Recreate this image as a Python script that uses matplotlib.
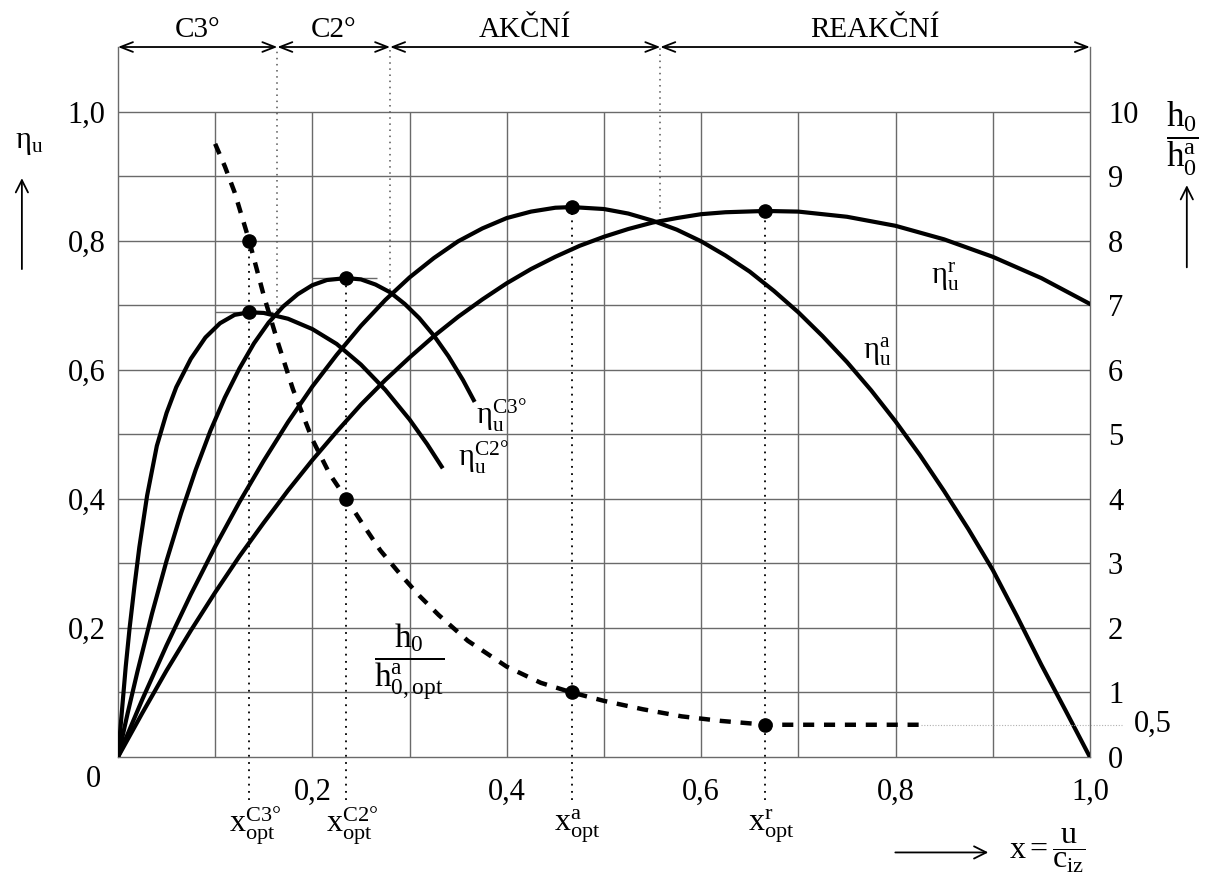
import numpy as np
import matplotlib
matplotlib.use("Agg")
import matplotlib.pyplot as plt
from matplotlib.patches import FancyArrowPatch

plt.rcParams["font.family"] = ["Liberation Serif", "DejaVu Serif"]
plt.rcParams["mathtext.fontset"] = "custom"
plt.rcParams["mathtext.rm"] = "Liberation Serif"
plt.rcParams["mathtext.it"] = "Liberation Serif:italic"

# --- data ---
# circumferential efficiency, C3° stage
x_c3 = [0, 0.004, 0.008, 0.012, 0.017, 0.022, 0.03, 0.04, 0.05, 0.06, 0.075,
        0.09, 0.105, 0.12, 0.135, 0.15, 0.175, 0.2, 0.225, 0.25, 0.275, 0.3, 0.318, 0.333]
eta_c3 = [0, 0.070, 0.140, 0.200, 0.265, 0.325, 0.405, 0.482, 0.533, 0.573, 0.617,
          0.650, 0.672, 0.685, 0.689, 0.688, 0.679, 0.663, 0.640, 0.608, 0.569, 0.523,
          0.485, 0.450]
# C2° stage
x_c2 = [0, 0.01, 0.02, 0.035, 0.05, 0.065, 0.08, 0.095, 0.11, 0.125, 0.14, 0.155, 0.17,
        0.185, 0.2, 0.215, 0.235, 0.25, 0.265, 0.28, 0.295, 0.31, 0.325, 0.34, 0.355, 0.366]
eta_c2 = [0, 0.068, 0.132, 0.222, 0.304, 0.378, 0.445, 0.505, 0.557, 0.602, 0.641, 0.673,
          0.698, 0.717, 0.731, 0.739, 0.742, 0.740, 0.732, 0.720, 0.702, 0.680, 0.653,
          0.621, 0.584, 0.553]
# impulse (akcni) stage
x_a = [0, 0.025, 0.05, 0.075, 0.1, 0.125, 0.15, 0.175, 0.2, 0.225, 0.25, 0.275, 0.3,
       0.325, 0.35, 0.375, 0.4, 0.425, 0.45, 0.467, 0.5, 0.525, 0.55, 0.575, 0.6, 0.625,
       0.65, 0.675, 0.7, 0.725, 0.75, 0.775, 0.8, 0.825, 0.85, 0.875, 0.9, 0.925, 0.95,
       0.975, 1.0]
eta_a = [0, 0.089, 0.173, 0.252, 0.326, 0.395, 0.459, 0.519, 0.574, 0.623, 0.668, 0.708,
         0.743, 0.773, 0.799, 0.819, 0.835, 0.845, 0.851, 0.852, 0.849, 0.842, 0.831,
         0.817, 0.799, 0.777, 0.752, 0.722, 0.689, 0.652, 0.612, 0.568, 0.520, 0.468,
         0.412, 0.353, 0.290, 0.218, 0.143, 0.072, 0.0]
# reaction (reakcni) stage
x_r = [0, 0.025, 0.05, 0.075, 0.1, 0.125, 0.15, 0.175, 0.2, 0.225, 0.25, 0.275, 0.3,
       0.325, 0.35, 0.375, 0.4, 0.425, 0.45, 0.475, 0.5, 0.525, 0.55, 0.575, 0.6, 0.625,
       0.666, 0.7, 0.75, 0.8, 0.85, 0.9, 0.95, 1.0]
eta_r = [0, 0.068, 0.134, 0.196, 0.255, 0.311, 0.363, 0.413, 0.460, 0.504, 0.546, 0.584,
         0.619, 0.652, 0.682, 0.709, 0.734, 0.756, 0.775, 0.792, 0.806, 0.818, 0.828,
         0.835, 0.841, 0.844, 0.846, 0.845, 0.837, 0.823, 0.802, 0.775, 0.742, 0.702]
# heat drop ratio h0 / h0a,opt (right axis)
x_h = [0.1, 0.11, 0.12, 0.135, 0.15, 0.165, 0.18, 0.2, 0.218, 0.235, 0.25, 0.27, 0.29,
       0.31, 0.33, 0.36, 0.4, 0.435, 0.467, 0.5, 0.54, 0.58, 0.62, 0.667, 0.7, 0.826]
h_ratio = [9.5, 9.15, 8.75, 8.0, 7.15, 6.4, 5.7, 4.92, 4.38, 4.0, 3.65, 3.2, 2.84,
           2.5, 2.2, 1.8, 1.4, 1.15, 1.0, 0.87, 0.74, 0.63, 0.56, 0.5, 0.5, 0.5]

# optimum points
x_opt = [0.135, 0.235, 0.467, 0.666]
eta_opt = [0.689, 0.742, 0.852, 0.846]
h_opt = [8.0, 4.0, 1.0, 0.5]
opt_names = ["C3°", "C2°", "a", "r"]

# stage ranges on top
bounds = [0, 0.164, 0.28, 0.558, 1.0]
bound_eta = [0.683, 0.714, 0.831]
stage_names = ["C3°", "C2°", "AKČNÍ", "REAKČNÍ"]

x_ticks = [0.2, 0.4, 0.6, 0.8, 1.0]
y_ticks = [0.2, 0.4, 0.6, 0.8, 1.0]
r_ticks = list(range(11))

fig = plt.figure(figsize=(12.16, 8.77), dpi=100)
ax = fig.add_axes([0.0970, 0.1368, 0.7993, 0.8096])
ax.set_xlim(0, 1.0)
ax.set_ylim(0, 1.1)

gc = "#6a6a6a"
ax.hlines(np.arange(1, 11) / 10, 0, 1, color=gc, lw=1.0, zorder=1)
ax.vlines(np.arange(1, 10) / 10, 0, 1.0, color=gc, lw=1.0, zorder=1)
for s in ["left", "right", "bottom"]:
    ax.spines[s].set_color(gc)
    ax.spines[s].set_linewidth(1.0)
ax.spines["top"].set_visible(False)

ax.set_xticks(x_ticks)
ax.set_xticklabels([f"{v:.1f}".replace(".", ",") for v in x_ticks])
ax.set_yticks(y_ticks)
ax.set_yticklabels([f"{v:.1f}".replace(".", ",") for v in y_ticks])
ax.tick_params(axis="x", length=0, pad=15, labelsize=22)
ax.tick_params(axis="y", length=0, pad=9, labelsize=22)
ax.text(-0.025, -0.035, "0", fontsize=22, ha="center", va="center")

lw = 3.0
for xs, ys in [(x_c3, eta_c3), (x_c2, eta_c2), (x_a, eta_a), (x_r, eta_r)]:
    ax.plot(xs, ys, color="black", lw=lw, solid_joinstyle="round", zorder=4)

ax.plot(x_opt, eta_opt, "o", color="black", ms=9.5, zorder=5)

# short flat lines at the C3 and C2 maxima
ax.hlines(eta_opt[0], 0.1, 0.16, color=gc, lw=1.0, zorder=2)
ax.hlines(eta_opt[1], 0.2, 0.267, color=gc, lw=1.0, zorder=2)

# dotted verticals at the optima
dots = (0, (1, 3))
ax.vlines(x_opt[0], -0.067, h_opt[0] / 10, color="black", lw=1.3, ls=dots,
          clip_on=False, zorder=3)
for xo, eo in zip(x_opt[1:], eta_opt[1:]):
    ax.vlines(xo, -0.067, eo, color="black", lw=1.3, ls=dots, clip_on=False, zorder=3)

for xo, name in zip(x_opt, opt_names):
    ax.text(xo + 0.006, -0.107, r"$\mathrm{x}_{\mathrm{opt}}^{\mathrm{" + name + "}}$",
            fontsize=23, ha="center", va="center")

# stage boundaries and arrows on top
for xb, eb in zip(bounds[1:-1], bound_eta):
    ax.vlines(xb, eb, 1.1, color="#555555", lw=1.1, ls=dots, zorder=2)
for i in range(len(bounds) - 1):
    ax.annotate("", xy=(bounds[i], 1.1), xytext=(bounds[i + 1], 1.1),
                arrowprops=dict(arrowstyle="<->,head_length=0.9,head_width=0.35",
                                color="black", lw=1.3, shrinkA=0, shrinkB=0),
                annotation_clip=False)
    ax.text((bounds[i] + bounds[i + 1]) / 2, 1.127, stage_names[i], fontsize=21,
            ha="center", va="center")

# curve labels
ax.text(0.394, 0.53, r"$\mathrm{η_u^{C3°}}$", fontsize=22, ha="center", va="center")
ax.text(0.376, 0.465, r"$\mathrm{η_u^{C2°}}$", fontsize=22, ha="center", va="center")
ax.text(0.781, 0.628, r"$\mathrm{η_u^{a}}$", fontsize=22, ha="center", va="center")
ax.text(0.851, 0.744, r"$\mathrm{η_u^{r}}$", fontsize=22, ha="center", va="center")
ax.text(0.3, 0.147, r"$\dfrac{\mathrm{h_0}}{\mathrm{h_{0,opt}^{a}}}$", fontsize=24,
        ha="center", va="center")

# right axis: heat drop ratio
ax2 = ax.twinx()
ax2.set_ylim(0, 11)
for s in ax2.spines.values():
    s.set_visible(False)
ax2.set_yticks(r_ticks)
ax2.set_yticklabels([str(v) for v in r_ticks])
ax2.tick_params(axis="y", length=0, pad=13, labelsize=22)
ax2.plot(x_h, h_ratio, color="black", lw=3.2, ls=(0, (2.5, 2.2)), zorder=4)
ax2.plot(x_opt, h_opt, "o", color="black", ms=9.5, zorder=5)
ax2.plot([x_h[-1], 1.033], [0.5, 0.5], color="#b0b0b0", lw=0.8, ls=(0, (1, 1.5)),
         clip_on=False)
ax2.text(1.065, 0.5, "0,5", transform=ax2.get_yaxis_transform(), fontsize=22,
         ha="center", va="center")

# axis titles and arrows
arrow_kw = dict(transform=fig.transFigure, arrowstyle="->", mutation_scale=22,
                color="black", lw=1.3)
fig.text(0.024, 0.838, r"$\mathrm{η_u}$", fontsize=22, ha="center", va="center")
fig.patches.append(FancyArrowPatch((0.018, 0.690), (0.018, 0.800), **arrow_kw))
fig.text(0.972, 0.842, r"$\dfrac{\mathrm{h_0}}{\mathrm{h_0^a}}$", fontsize=25,
         ha="center", va="center")
fig.patches.append(FancyArrowPatch((0.976, 0.692), (0.976, 0.792), **arrow_kw))
fig.patches.append(FancyArrowPatch((0.734, 0.028), (0.815, 0.028), **arrow_kw))
fig.text(0.830, 0.030, r"$\mathrm{x} = \dfrac{\mathrm{u}}{\mathrm{c_{iz}}}$", fontsize=23,
         ha="left", va="center")

fig.savefig("out.png", dpi=100, facecolor="white")
